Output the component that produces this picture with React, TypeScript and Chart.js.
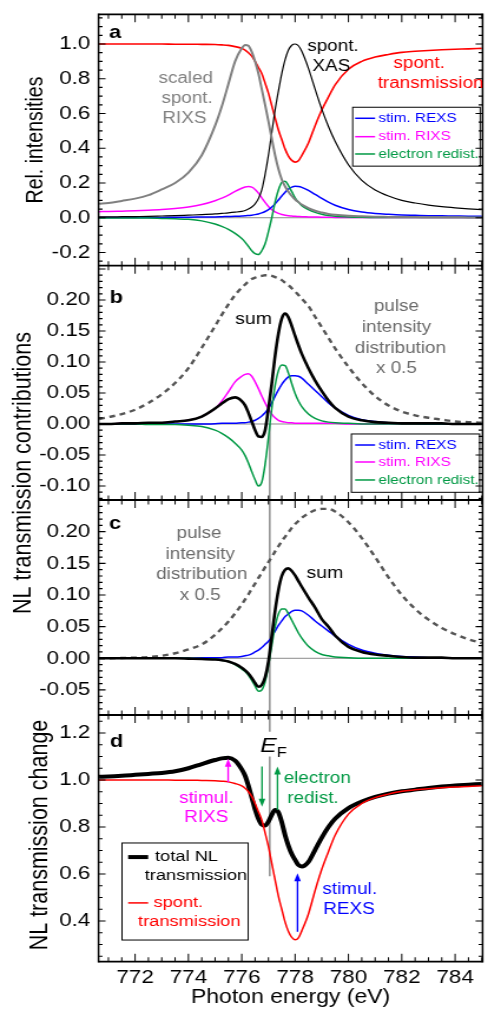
import React, { useEffect, useRef } from 'react';
import { Chart, registerables } from 'chart.js';

Chart.register(...registerables);

// ---------------- data ----------------
const energy = [770.65, 771, 771.5, 772, 772.5, 773, 773.5, 774, 774.5, 775, 775.25, 775.5, 775.75, 776, 776.125, 776.25, 776.375, 776.5, 776.625, 776.75, 776.875, 777, 777.125, 777.25, 777.375, 777.5, 777.625, 777.75, 777.875, 778, 778.125, 778.25, 778.5, 778.75, 779, 779.25, 779.5, 780, 780.5, 781, 781.5, 782, 782.5, 783, 783.5, 784, 784.5, 785];

// panel a
const spontTransmission = [1.0, 1.0, 1.0, 1.0, 1.0, 1.0, 0.999, 0.999, 0.998, 0.997, 0.995, 0.992, 0.985, 0.975, 0.965, 0.95, 0.93, 0.9, 0.865, 0.83, 0.775, 0.717, 0.645, 0.575, 0.505, 0.45, 0.395, 0.355, 0.33, 0.32, 0.328, 0.358, 0.43, 0.53, 0.62, 0.695, 0.765, 0.855, 0.9, 0.925, 0.94, 0.952, 0.958, 0.963, 0.967, 0.97, 0.972, 0.975];
const spontXAS = [0.005, 0.005, 0.006, 0.007, 0.008, 0.01, 0.012, 0.015, 0.018, 0.022, 0.025, 0.028, 0.032, 0.037, 0.042, 0.05, 0.062, 0.08, 0.11, 0.16, 0.25, 0.36, 0.49, 0.62, 0.73, 0.83, 0.91, 0.965, 0.993, 1.0, 0.99, 0.958, 0.86, 0.74, 0.625, 0.525, 0.44, 0.305, 0.215, 0.16, 0.125, 0.1, 0.085, 0.073, 0.064, 0.057, 0.051, 0.046];
const scaledSpontRIXS = [0.08, 0.085, 0.097, 0.11, 0.13, 0.163, 0.2, 0.26, 0.36, 0.53, 0.64, 0.77, 0.9, 0.975, 0.995, 0.99, 0.955, 0.9, 0.83, 0.74, 0.65, 0.555, 0.455, 0.36, 0.28, 0.22, 0.18, 0.15, 0.125, 0.105, 0.09, 0.076, 0.055, 0.04, 0.03, 0.022, 0.017, 0.011, 0.008, 0.006, 0.005, 0.004, 0.004, 0.003, 0.003, 0.003, 0.002, 0.002];
const stimREXS_a = [0.001, 0.001, 0.001, 0.002, 0.002, 0.002, 0.003, 0.003, 0.004, 0.005, 0.006, 0.007, 0.008, 0.01, 0.011, 0.013, 0.015, 0.018, 0.022, 0.028, 0.036, 0.047, 0.062, 0.08, 0.102, 0.125, 0.147, 0.165, 0.176, 0.181, 0.18, 0.175, 0.157, 0.134, 0.112, 0.09, 0.072, 0.047, 0.033, 0.025, 0.02, 0.016, 0.014, 0.012, 0.011, 0.01, 0.009, 0.009];
const stimRIXS_a = [0.035, 0.036, 0.038, 0.04, 0.043, 0.047, 0.053, 0.062, 0.076, 0.098, 0.113, 0.13, 0.152, 0.17, 0.177, 0.18, 0.176, 0.163, 0.142, 0.115, 0.088, 0.065, 0.047, 0.034, 0.025, 0.019, 0.015, 0.012, 0.01, 0.008, 0.007, 0.006, 0.005, 0.004, 0.003, 0.003, 0.002, 0.002, 0.001, 0.001, 0.001, 0.001, 0.001, 0.001, 0.001, 0.001, 0.001, 0.001];
const elecRedist_a = [-0.001, -0.001, -0.001, -0.002, -0.002, -0.004, -0.006, -0.009, -0.018, -0.036, -0.05, -0.067, -0.09, -0.12, -0.14, -0.165, -0.19, -0.207, -0.212, -0.19, -0.15, -0.08, 0.0, 0.09, 0.16, 0.203, 0.21, 0.185, 0.15, 0.115, 0.09, 0.07, 0.047, 0.031, 0.02, 0.013, 0.009, 0.005, 0.003, 0.002, 0.002, 0.001, 0.001, 0.001, 0.001, 0.001, 0.001, 0.001];

// panel b
const pulse_b = [0.008, 0.011, 0.016, 0.023, 0.034, 0.048, 0.066, 0.09, 0.123, 0.158, 0.176, 0.193, 0.208, 0.22, 0.225, 0.23, 0.234, 0.236, 0.238, 0.239, 0.24, 0.24, 0.239, 0.237, 0.235, 0.232, 0.228, 0.224, 0.219, 0.214, 0.208, 0.202, 0.19, 0.173, 0.156, 0.139, 0.122, 0.092, 0.066, 0.045, 0.03, 0.02, 0.014, 0.01, 0.007, 0.004, 0.003, 0.002];
const sum_b = [0, 0, 0.001, 0.001, 0.002, 0.002, 0.004, 0.006, 0.012, 0.025, 0.033, 0.04, 0.043, 0.037, 0.03, 0.018, 0.004, -0.01, -0.02, -0.021, -0.01, 0.025, 0.065, 0.11, 0.146, 0.17, 0.178, 0.172, 0.158, 0.142, 0.127, 0.113, 0.09, 0.07, 0.053, 0.038, 0.026, 0.012, 0.006, 0.003, 0.002, 0.001, 0.001, 0.001, 0.001, 0, 0, 0];
const stimRIXS_b = [0, 0, 0.001, 0.001, 0.002, 0.002, 0.004, 0.006, 0.012, 0.025, 0.037, 0.052, 0.068, 0.077, 0.08, 0.081, 0.077, 0.068, 0.057, 0.045, 0.034, 0.024, 0.016, 0.01, 0.006, 0.004, 0.003, 0.002, 0.002, 0.001, 0.001, 0.001, 0.001, 0.001, 0.001, 0.001, 0.001, 0, 0, 0, 0, 0, 0, 0, 0, 0, 0, 0];
const stimREXS_b = [0, 0, 0, 0, 0, 0, 0, 0, 0, 0.0005, 0.001, 0.001, 0.001, 0.002, 0.002, 0.003, 0.004, 0.006, 0.009, 0.013, 0.018, 0.025, 0.034, 0.045, 0.055, 0.064, 0.071, 0.076, 0.078, 0.078, 0.077, 0.074, 0.064, 0.054, 0.044, 0.034, 0.026, 0.014, 0.007, 0.004, 0.002, 0.001, 0.001, 0, 0, 0, 0, 0];
const elecRedist_b = [0, 0, 0, 0, -0.001, -0.001, -0.001, -0.002, -0.004, -0.01, -0.015, -0.022, -0.031, -0.042, -0.051, -0.063, -0.077, -0.09, -0.1, -0.094, -0.065, -0.022, 0.025, 0.062, 0.086, 0.095, 0.094, 0.082, 0.065, 0.049, 0.037, 0.028, 0.016, 0.009, 0.005, 0.003, 0.002, 0.001, 0, 0, 0, 0, 0, 0, 0, 0, 0, 0];

// panel c
const pulse_c = [0, 0, 0.0005, 0.001, 0.002, 0.004, 0.008, 0.014, 0.022, 0.037, 0.047, 0.058, 0.071, 0.085, 0.093, 0.101, 0.11, 0.118, 0.127, 0.135, 0.144, 0.152, 0.16, 0.169, 0.177, 0.185, 0.192, 0.199, 0.206, 0.212, 0.217, 0.222, 0.229, 0.234, 0.236, 0.236, 0.232, 0.215, 0.19, 0.16, 0.128, 0.1, 0.078, 0.061, 0.048, 0.038, 0.03, 0.024];
const sum_c = [0, 0, 0, 0, 0, 0, 0, -0.0005, -0.001, -0.002, -0.003, -0.005, -0.009, -0.015, -0.019, -0.024, -0.031, -0.039, -0.045, -0.042, -0.03, -0.005, 0.035, 0.075, 0.108, 0.13, 0.14, 0.142, 0.138, 0.131, 0.122, 0.113, 0.096, 0.08, 0.062, 0.05, 0.036, 0.018, 0.01, 0.006, 0.004, 0.002, 0.001, 0.001, 0.001, 0, 0, 0];
const stimREXS_c = [0, 0, 0, 0, 0, 0, 0, 0, 0.001, 0.001, 0.001, 0.002, 0.002, 0.003, 0.004, 0.005, 0.007, 0.01, 0.013, 0.017, 0.022, 0.027, 0.034, 0.043, 0.052, 0.059, 0.066, 0.07, 0.074, 0.076, 0.076, 0.075, 0.068, 0.059, 0.051, 0.043, 0.035, 0.022, 0.013, 0.008, 0.005, 0.003, 0.002, 0.001, 0.001, 0.001, 0, 0];
const elecRedist_c = [0, 0, 0, 0, 0, 0, 0, 0, -0.0005, -0.001, -0.003, -0.005, -0.01, -0.017, -0.021, -0.027, -0.035, -0.044, -0.052, -0.05, -0.037, -0.012, 0.02, 0.05, 0.07, 0.078, 0.078, 0.07, 0.06, 0.05, 0.04, 0.032, 0.019, 0.011, 0.006, 0.004, 0.002, 0.001, 0, 0, 0, 0, 0, 0, 0, 0, 0, 0];

// panel d
const totalNL = [1.014, 1.015, 1.018, 1.022, 1.026, 1.03, 1.037, 1.05, 1.068, 1.085, 1.092, 1.095, 1.082, 1.045, 1.018, 0.975, 0.925, 0.875, 0.835, 0.81, 0.806, 0.823, 0.852, 0.872, 0.862, 0.82, 0.765, 0.72, 0.685, 0.66, 0.638, 0.632, 0.652, 0.703, 0.755, 0.8, 0.835, 0.88, 0.908, 0.928, 0.942, 0.952, 0.959, 0.966, 0.972, 0.977, 0.98, 0.983];

const xTickStep = 2;
const EF = 777.05;

// ---------------- layout / style ----------------
const W0 = 414;
const H0 = 1011;
const SX = 488 / W0; // the reference is stretched horizontally
const FONT = '"Liberation Sans", Arial, Helvetica, sans-serif';
const X_MIN = 770.63;
const X_MAX = 785.03;
const AXIS_W = 83.6;
const TICK_FONT = 19;

const RED = '#ff0000';
const BLUE = '#0000ff';
const MAGENTA = '#ff00ff';
const GREEN = '#009944';
const GRAY = '#808080';
const DASH = '#555555';
const PULSE_TXT = '#6a6a6a';

const PANELS: any = {
  ya: { min: -0.276, max: 1.171, major: 0.2, minor: 0.05, h: 251.4, weight: 4, dec: 1, maxLabel: 1.05 },
  yb: { min: -0.1226, max: 0.2553, major: 0.05, minor: 0.01, h: 234.3, weight: 3, dec: 2, maxLabel: 0.21 },
  yc: { min: -0.0896, max: 0.2501, major: 0.05, minor: 0.01, h: 215, weight: 2, dec: 2, maxLabel: 0.21 },
  yd: { min: 0.2268, max: 1.2766, major: 0.2, minor: 0.05, h: 246.7, weight: 1, dec: 1, maxLabel: 1.25 },
};

const series = (ys: number[], axis: string, color: string, width: number, extra: any = {}) => ({
  data: energy.map((e, i) => ({ x: e, y: ys[i] })),
  yAxisID: axis,
  borderColor: color,
  backgroundColor: color,
  borderWidth: width,
  pointRadius: 0,
  fill: false,
  cubicInterpolationMode: 'monotone',
  ...extra,
});

// first listed is drawn on top
const datasets = [
  series(scaledSpontRIXS, 'ya', GRAY, 2),
  series(spontXAS, 'ya', '#000', 1.2),
  series(spontTransmission, 'ya', RED, 1.6),
  series(elecRedist_a, 'ya', GREEN, 1.5),
  series(stimREXS_a, 'ya', BLUE, 1.5),
  series(stimRIXS_a, 'ya', MAGENTA, 1.5),

  series(sum_b, 'yb', '#000', 2.6),
  series(elecRedist_b, 'yb', GREEN, 1.5),
  series(stimREXS_b, 'yb', BLUE, 1.5),
  series(stimRIXS_b, 'yb', MAGENTA, 1.5),
  series(pulse_b, 'yb', DASH, 2.4, { borderDash: [5, 4] }),

  series(sum_c, 'yc', '#000', 2.6),
  series(elecRedist_c, 'yc', GREEN, 1.5),
  series(stimREXS_c, 'yc', BLUE, 1.5),
  series(pulse_c, 'yc', DASH, 2.4, { borderDash: [5, 4] }),

  series(spontTransmission, 'yd', RED, 1.5),
  series(totalNL, 'yd', '#000', 4),
];

const yScale = (p: any) => ({
  type: 'linear',
  position: 'left',
  stack: 'panels',
  stackWeight: p.h,
  weight: p.weight,
  min: p.min,
  max: p.max,
  grid: { display: false, drawTicks: false },
  border: { display: false },
  ticks: {
    stepSize: p.major,
    includeBounds: false,
    autoSkip: false,
    padding: 7,
    color: '#000',
    font: { family: FONT, size: TICK_FONT },
    callback: (v: any) => (Number(v) > p.maxLabel ? '' : Number(v).toFixed(p.dec)),
  },
  afterFit: (s: any) => {
    s.width = AXIS_W;
    s.paddingTop = 0;
    s.paddingBottom = 0;
  },
});

// ---------------- drawing helpers ----------------
function text(ctx: any, t: string, x: number, y: number, size: number, color: string, align = 'center', weight = 'normal', style = 'normal', baseline = 'middle') {
  ctx.font = `${style} ${weight} ${size}px ${FONT}`;
  ctx.fillStyle = color;
  ctx.textAlign = align;
  ctx.textBaseline = baseline;
  ctx.fillText(t, x, y);
}

function vArrow(ctx: any, x: number, y1: number, y2: number, color: string) {
  const dir = y2 < y1 ? -1 : 1;
  const hl = 8;
  const hw = 3.3 / SX;
  ctx.strokeStyle = color;
  ctx.fillStyle = color;
  ctx.lineWidth = 1.6 / SX;
  ctx.beginPath();
  ctx.moveTo(x, y1);
  ctx.lineTo(x, y2 - dir * hl * 0.6);
  ctx.stroke();
  ctx.beginPath();
  ctx.moveTo(x, y2);
  ctx.lineTo(x - hw, y2 - dir * hl);
  ctx.lineTo(x + hw, y2 - dir * hl);
  ctx.closePath();
  ctx.fill();
}

function legendBox(ctx: any, X: any, Y: any, box: number[], items: any[], size: number) {
  const [e0, e1, v0, v1] = box;
  ctx.strokeStyle = '#000';
  ctx.lineWidth = 1;
  ctx.strokeRect(X(e0), Y(v0), X(e1) - X(e0), Y(v1) - Y(v0));
  for (const it of items) {
    if (it.line) {
      ctx.strokeStyle = it.line;
      ctx.lineWidth = it.lw;
      ctx.beginPath();
      ctx.moveTo(X(it.l0), Y(it.v));
      ctx.lineTo(X(it.l1), Y(it.v));
      ctx.stroke();
    }
    text(ctx, it.t, X(it.te), Y(it.tv ?? it.v), size, it.color, 'left');
  }
}

const decor = {
  id: 'decor',
  beforeDatasetsDraw(chart: any) {
    const ctx = chart.ctx;
    const xs = chart.scales.x;
    const { left, right } = chart.chartArea;
    ctx.save();
    ctx.strokeStyle = '#8a8a8a';
    ctx.lineWidth = 1;
    for (const id of ['ya', 'yb', 'yc']) {
      const y = chart.scales[id].getPixelForValue(0);
      ctx.beginPath();
      ctx.moveTo(left, y);
      ctx.lineTo(right, y);
      ctx.stroke();
    }
    // E_F vertical line
    const xe = xs.getPixelForValue(EF);
    ctx.strokeStyle = '#808080';
    ctx.lineWidth = 1.6 / SX;
    ctx.beginPath();
    ctx.moveTo(xe, chart.scales.yb.getPixelForValue(0));
    ctx.lineTo(xe, chart.scales.yd.getPixelForValue(1.205));
    ctx.moveTo(xe, chart.scales.yd.getPixelForValue(1.1));
    ctx.lineTo(xe, chart.scales.yd.getPixelForValue(0.59));
    ctx.stroke();
    ctx.restore();
  },
  afterDraw(chart: any) {
    const ctx = chart.ctx;
    const xs = chart.scales.x;
    const { left, right, top, bottom } = chart.chartArea;
    const X = (e: number) => xs.getPixelForValue(e);
    const Ya = (v: number) => chart.scales.ya.getPixelForValue(v);
    const Yb = (v: number) => chart.scales.yb.getPixelForValue(v);
    const Yc = (v: number) => chart.scales.yc.getPixelForValue(v);
    const Yd = (v: number) => chart.scales.yd.getPixelForValue(v);
    ctx.save();

    // ticks on every panel
    ctx.strokeStyle = '#000';
    for (const id of ['ya', 'yb', 'yc', 'yd']) {
      const s = chart.scales[id];
      const p = PANELS[id];
      ctx.lineWidth = 1.2;
      ctx.beginPath();
      const k0 = Math.ceil(p.min / p.minor - 1e-9);
      const k1 = Math.floor(p.max / p.minor + 1e-9);
      for (let k = k0; k <= k1; k++) {
        const v = k * p.minor;
        const r = v / p.major;
        const major = Math.abs(r - Math.round(r)) < 1e-6;
        const len = (major ? 7 : 4) / SX;
        const y = s.getPixelForValue(v);
        ctx.moveTo(left, y);
        ctx.lineTo(left + len, y);
        ctx.moveTo(right, y);
        ctx.lineTo(right - len, y);
      }
      ctx.stroke();
      ctx.lineWidth = 1.2 / SX;
      ctx.beginPath();
      for (let k = Math.ceil(X_MIN * 2); k <= Math.floor(X_MAX * 2); k++) {
        const major = k % (xTickStep * 2) === 0;
        const len = major ? 8 : 4.5;
        const x = X(k / 2);
        ctx.moveTo(x, s.top);
        ctx.lineTo(x, s.top + len);
        ctx.moveTo(x, s.bottom);
        ctx.lineTo(x, s.bottom - len);
      }
      ctx.stroke();
    }

    // frames
    ctx.lineWidth = 1.8;
    ctx.beginPath();
    for (const id of ['ya', 'yb', 'yc', 'yd']) {
      const s = chart.scales[id];
      ctx.moveTo(left, s.top);
      ctx.lineTo(right, s.top);
    }
    ctx.moveTo(left, bottom);
    ctx.lineTo(right, bottom);
    ctx.stroke();
    ctx.lineWidth = 1.8 / SX;
    ctx.beginPath();
    ctx.moveTo(left, top - 0.9);
    ctx.lineTo(left, bottom + 0.9);
    ctx.moveTo(right, top - 0.9);
    ctx.lineTo(right, bottom + 0.9);
    ctx.stroke();

    // y titles
    const vTitle = (t: string, x: number, y: number, size: number) => {
      ctx.save();
      ctx.translate(x, y);
      ctx.rotate(-Math.PI / 2);
      text(ctx, t, 0, 0, size, '#000');
      ctx.restore();
    };
    vTitle('Rel. intensities', 30.5, (chart.scales.ya.top + chart.scales.ya.bottom) / 2, 19.5);
    vTitle('NL transmission contributions', 19.8, 473, 21.5);
    vTitle('NL transmission change', 34, 835, 21.5);

    // panel letters
    text(ctx, 'a', X(771.25), Ya(1.065), 18.5, '#000', 'center', 'bold');
    text(ctx, 'b', X(771.29), Yb(0.203), 18.5, '#000', 'center', 'bold');
    text(ctx, 'c', X(771.25), Yc(0.213), 18.5, '#000', 'center', 'bold');
    text(ctx, 'd', X(771.31), Yd(1.163), 18.5, '#000', 'center', 'bold');

    // panel a annotations
    text(ctx, 'scaled', X(773.9), Ya(0.803), 16, GRAY);
    text(ctx, 'spont.', X(773.95), Ya(0.688), 16, GRAY);
    text(ctx, 'RIXS', X(773.85), Ya(0.573), 16, GRAY);
    text(ctx, 'spont.', X(779.42), Ya(0.984), 16, '#000');
    text(ctx, 'XAS', X(779.36), Ya(0.869), 16, '#000');
    text(ctx, 'spont.', X(782.65), Ya(0.889), 16, RED);
    text(ctx, 'transmission', X(783.08), Ya(0.774), 16, RED);
    legendBox(ctx, X, Ya, [780.16, 784.94, 0.636, 0.297], [
      { t: 'stim. REXS', color: BLUE, line: BLUE, lw: 1.5, l0: 780.25, l1: 781.0, te: 781.12, v: 0.5725 },
      { t: 'stim. RIXS', color: MAGENTA, line: MAGENTA, lw: 1.5, l0: 780.25, l1: 781.0, te: 781.12, v: 0.4666 },
      { t: 'electron redist.', color: GREEN, line: GREEN, lw: 1.5, l0: 780.25, l1: 781.0, te: 781.12, v: 0.367 },
    ], 13);

    // panel b annotations
    text(ctx, 'sum', X(776.44), Yb(0.168), 16.5, '#000');
    text(ctx, 'pulse', X(781.8), Yb(0.189), 16, PULSE_TXT);
    text(ctx, 'intensity', X(781.8), Yb(0.156), 16, PULSE_TXT);
    text(ctx, 'distribution', X(781.95), Yb(0.122), 16, PULSE_TXT);
    text(ctx, 'x 0.5', X(781.8), Yb(0.0898), 16, PULSE_TXT);
    legendBox(ctx, X, Yb, [780.11, 784.92, -0.0161, -0.1102], [
      { t: 'stim. REXS', color: BLUE, line: BLUE, lw: 1.5, l0: 780.25, l1: 781.0, te: 781.12, v: -0.0339 },
      { t: 'stim. RIXS', color: MAGENTA, line: MAGENTA, lw: 1.5, l0: 780.25, l1: 781.0, te: 781.12, v: -0.0613 },
      { t: 'electron redist.', color: GREEN, line: GREEN, lw: 1.5, l0: 780.25, l1: 781.0, te: 781.12, v: -0.0903 },
    ], 13);

    // panel c annotations
    text(ctx, 'pulse', X(774.4), Yc(0.1975), 16, PULSE_TXT);
    text(ctx, 'intensity', X(774.44), Yc(0.1643), 16, PULSE_TXT);
    text(ctx, 'distribution', X(774.5), Yc(0.1316), 16, PULSE_TXT);
    text(ctx, 'x 0.5', X(774.44), Yc(0.0989), 16, PULSE_TXT);
    text(ctx, 'sum', X(779.12), Yc(0.134), 16.5, '#000');

    // panel d annotations
    text(ctx, 'E', X(776.69), Yd(1.118), 21, '#000', 'left', 'normal', 'italic', 'alphabetic');
    text(ctx, 'F', X(777.31), Yd(1.099), 14, '#000', 'left', 'normal', 'normal', 'alphabetic');
    vArrow(ctx, X(775.49), Yd(0.99), Yd(1.09), MAGENTA);
    text(ctx, 'stimul.', X(774.67), Yd(0.923), 16, MAGENTA);
    text(ctx, 'RIXS', X(774.67), Yd(0.838), 16, MAGENTA);
    vArrow(ctx, X(776.76), Yd(1.057), Yd(0.886), GREEN);
    vArrow(ctx, X(777.34), Yd(0.872), Yd(1.057), GREEN);
    text(ctx, 'electron', X(778.83), Yd(1.007), 16, GREEN);
    text(ctx, 'redist.', X(778.67), Yd(0.922), 16, GREEN);
    vArrow(ctx, X(778.09), Yd(0.354), Yd(0.603), BLUE);
    text(ctx, 'stimul.', X(780.05), Yd(0.532), 16, BLUE);
    text(ctx, 'REXS', X(780.02), Yd(0.447), 16, BLUE);
    legendBox(ctx, X, Yd, [771.51, 776.24, 0.732, 0.319], [
      { t: 'total NL', color: '#000', line: '#000', lw: 4, l0: 771.74, l1: 772.49, te: 772.75, v: 0.672 },
      { t: 'transmission', color: '#000', te: 772.36, v: 0.591 },
      { t: 'spont.', color: RED, line: RED, lw: 1.5, l0: 771.74, l1: 772.49, te: 772.69, v: 0.477 },
      { t: 'transmission', color: RED, te: 772.11, v: 0.396 },
    ], 15.5);

    ctx.restore();
  },
};

export default function App() {
  const ref = useRef<HTMLCanvasElement>(null);

  useEffect(() => {
    const canvas = ref.current;
    if (!canvas) return;
    const chart = new Chart(canvas, {
      type: 'line',
      data: { datasets: datasets as any },
      options: {
        animation: false,
        responsive: false,
        devicePixelRatio: 1,
        layout: { padding: { top: 14.3, right: W0 - 409.4, bottom: 0, left: 0 } },
        plugins: { legend: { display: false }, tooltip: { enabled: false } },
        elements: { point: { radius: 0 }, line: { borderJoinStyle: 'round', borderCapStyle: 'butt' } },
        scales: {
          x: {
            type: 'linear',
            position: 'bottom',
            min: X_MIN,
            max: X_MAX,
            grid: { display: false, drawTicks: false },
            border: { display: false },
            ticks: {
              stepSize: xTickStep,
              includeBounds: false,
              autoSkip: false,
              maxRotation: 0,
              padding: 5,
              color: '#000',
              font: { family: FONT, size: TICK_FONT },
              callback: (v: any) => String(v),
            },
            title: {
              display: true,
              text: 'Photon energy (eV)',
              color: '#000',
              font: { family: FONT, size: 19.5 },
              padding: { top: 0, bottom: 2 },
            },
            afterFit: (s: any) => {
              s.height = 49.3;
              s.paddingLeft = 0;
              s.paddingRight = 0;
            },
          },
          ya: yScale(PANELS.ya),
          yb: yScale(PANELS.yb),
          yc: yScale(PANELS.yc),
          yd: yScale(PANELS.yd),
        } as any,
      } as any,
      plugins: [decor],
    });
    return () => chart.destroy();
  }, []);

  return (
    <div style={{ position: 'absolute', left: 0, top: 0, width: 488, height: 1011, overflow: 'hidden', background: '#fff' }}>
      <canvas
        ref={ref}
        width={W0}
        height={H0}
        style={{ display: 'block', width: W0, height: H0, transform: `scaleX(${SX})`, transformOrigin: '0 0' }}
      />
    </div>
  );
}
